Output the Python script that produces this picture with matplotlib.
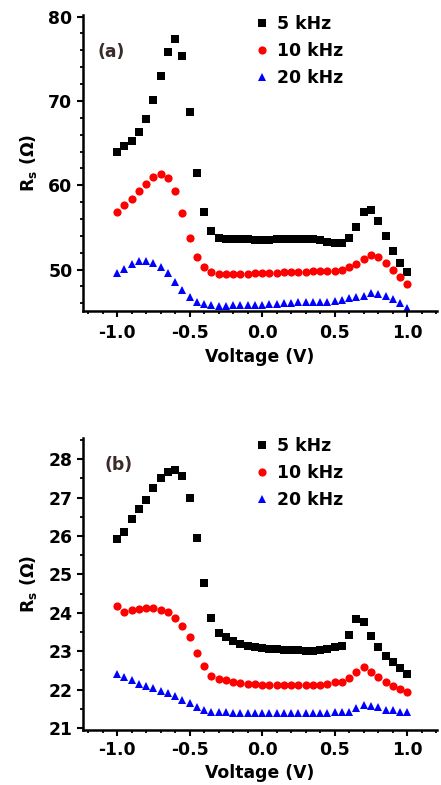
import numpy as np
import matplotlib
matplotlib.use("Agg")
import matplotlib.pyplot as plt
from matplotlib.ticker import MultipleLocator

plt.rcParams['font.family'] = ['DejaVu Sans']
plt.rcParams['font.weight'] = 'bold'
plt.rcParams['mathtext.default'] = 'bf'

# -------------------------------
# Data
# -------------------------------

voltage = [-1.0, -0.95, -0.9, -0.85, -0.8, -0.75, -0.7, -0.65, -0.6, -0.55,
           -0.5, -0.45, -0.4, -0.35, -0.3, -0.25, -0.2, -0.15, -0.1, -0.05,
           0.0, 0.05, 0.1, 0.15, 0.2, 0.25, 0.3, 0.35, 0.4, 0.45,
           0.5, 0.55, 0.6, 0.65, 0.7, 0.75, 0.8, 0.85, 0.9, 0.95, 1.0]

labels = ["5 kHz", "10 kHz", "20 kHz"]

# panel (a)
a_5k = [64.0, 64.6, 65.2, 66.3, 67.8, 70.1, 73.0, 75.8, 77.4, 75.3,
        68.7, 61.4, 56.8, 54.6, 53.8, 53.6, 53.6, 53.6, 53.6, 53.5,
        53.5, 53.5, 53.6, 53.6, 53.6, 53.6, 53.6, 53.6, 53.5, 53.3,
        53.1, 53.2, 53.7, 55.0, 56.8, 57.1, 55.8, 54.0, 52.2, 50.8, 49.7]
a_10k = [56.8, 57.6, 58.4, 59.3, 60.2, 61.0, 61.3, 60.9, 59.3, 56.7,
         53.7, 51.5, 50.3, 49.7, 49.5, 49.5, 49.5, 49.5, 49.5, 49.6,
         49.6, 49.6, 49.6, 49.7, 49.7, 49.7, 49.7, 49.8, 49.8, 49.8,
         49.8, 49.9, 50.3, 50.7, 51.3, 51.7, 51.5, 50.8, 50.0, 49.1, 48.3]
a_20k = [49.6, 50.1, 50.7, 51.0, 51.0, 50.8, 50.3, 49.6, 48.5, 47.6,
         46.8, 46.2, 45.9, 45.8, 45.7, 45.7, 45.8, 45.8, 45.8, 45.8,
         45.8, 45.9, 45.9, 46.0, 46.0, 46.1, 46.1, 46.1, 46.2, 46.2,
         46.3, 46.4, 46.6, 46.7, 46.9, 47.2, 47.1, 46.9, 46.5, 46.0, 45.4]

# panel (b)
b_5k = [25.92, 26.11, 26.43, 26.70, 26.95, 27.24, 27.50, 27.67, 27.73, 27.56,
        26.98, 25.94, 24.77, 23.86, 23.47, 23.37, 23.27, 23.19, 23.14, 23.11,
        23.08, 23.06, 23.05, 23.04, 23.03, 23.03, 23.02, 23.02, 23.04, 23.07,
        23.11, 23.15, 23.42, 23.84, 23.76, 23.40, 23.10, 22.89, 22.71, 22.56, 22.41]
b_10k = [24.18, 24.03, 24.08, 24.10, 24.12, 24.12, 24.08, 24.01, 23.86, 23.67,
         23.38, 22.95, 22.62, 22.36, 22.27, 22.24, 22.20, 22.17, 22.15, 22.14,
         22.13, 22.12, 22.12, 22.12, 22.12, 22.12, 22.12, 22.12, 22.13, 22.15,
         22.19, 22.21, 22.30, 22.47, 22.58, 22.45, 22.33, 22.21, 22.10, 22.01, 21.95]
b_20k = [22.41, 22.33, 22.24, 22.15, 22.10, 22.04, 21.97, 21.91, 21.84, 21.74,
         21.65, 21.56, 21.48, 21.43, 21.42, 21.41, 21.40, 21.40, 21.40, 21.39,
         21.39, 21.39, 21.39, 21.39, 21.39, 21.39, 21.39, 21.40, 21.40, 21.40,
         21.41, 21.41, 21.42, 21.52, 21.61, 21.58, 21.55, 21.48, 21.46, 21.43, 21.42]

# -------------------------------
# Plot
# -------------------------------

fig = plt.figure(figsize=(4.41, 7.85), dpi=100)
ax_a = fig.add_axes([0.188, 0.604, 0.803, 0.377])
ax_b = fig.add_axes([0.188, 0.070, 0.803, 0.372])

styles = [dict(marker='s', color='black', ms=5.4),
          dict(marker='o', color='red', ms=5.9),
          dict(marker='^', color='blue', ms=5.7)]

FS = 12.4


def draw(ax, series, tag, tag_xy, ylim, ymajor, yminor, leg_top, xpad, xlpad):
    for vals, lab, st in zip(series, labels, styles):
        ax.plot(voltage, vals, linestyle='none', marker=st['marker'],
                color=st['color'], markersize=st['ms'], markeredgewidth=0,
                label=lab)
    ax.set_xlim(-1.235, 1.205)
    ax.set_ylim(*ylim)
    ax.spines['top'].set_visible(False)
    ax.spines['right'].set_visible(False)
    ax.spines['left'].set_linewidth(1.8)
    ax.spines['bottom'].set_linewidth(1.8)
    ax.xaxis.set_major_locator(MultipleLocator(0.5))
    ax.xaxis.set_minor_locator(MultipleLocator(0.1))
    ax.yaxis.set_major_locator(MultipleLocator(ymajor))
    ax.yaxis.set_minor_locator(MultipleLocator(yminor))
    ax.tick_params(which='major', direction='out', length=4, width=1.5,
                   labelsize=FS, pad=3.5)
    ax.tick_params(axis='x', which='major', pad=xpad)
    ax.tick_params(which='minor', direction='out', length=2.2, width=1.3)
    ax.xaxis.set_major_formatter(plt.FormatStrFormatter('%.1f'))
    for t in ax.get_xticklabels() + ax.get_yticklabels():
        t.set_fontweight('bold')
    ax.set_xlabel("Voltage (V)", fontsize=FS, fontweight='bold', labelpad=xlpad)
    ax.set_ylabel("R$_s$ (Ω)", fontsize=FS, fontweight='bold', labelpad=7)
    ax.text(tag_xy[0], tag_xy[1], tag, transform=ax.transAxes, fontsize=FS,
            fontweight='bold', color='#3a2a2a', va='center')
    ax.legend(loc='upper left', bbox_to_anchor=(0.482, leg_top), frameon=False,
              fontsize=FS, handlelength=0.6, handletextpad=0.56,
              labelspacing=0.53, borderpad=0.2, borderaxespad=0)


draw(ax_a, [a_5k, a_10k, a_20k], "(a)", (0.042, 0.875), (45.1, 80.2), 10, 2,
     1.012, 5.5, 4.5)
draw(ax_b, [b_5k, b_10k, b_20k], "(b)", (0.062, 0.908), (20.95, 28.55), 1, 0.5,
     1.015, 4.0, 3.5)

plt.savefig("out.png", dpi=100)
